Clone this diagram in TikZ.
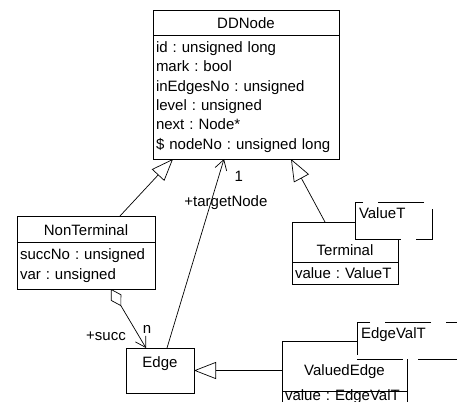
\documentclass[tikz,border=0pt]{standalone}
\usepackage{fontspec}
\setmainfont{Liberation Sans}
\usetikzlibrary{
  arrows.meta,
  positioning
}
\tikzset{>=latex}

\begin{document}
\begin{tikzpicture}[x=1pt, y=-1pt, line width=0.7pt,
    every node/.style={font=\fontsize{15pt}{19.4pt}\selectfont\frenchspacing},
    classhead/.style={draw, fill=white, align=center, inner sep=0pt, outer sep=0pt, text height=18.5pt, text depth=6.5pt},
    classbody/.style={draw, fill=white, align=left, inner xsep=3pt, inner ysep=0pt, outer sep=0pt},
    template/.style={draw, fill=white, dash pattern=on 46pt off 15pt, align=left, inner xsep=4pt, inner ysep=0pt, outer sep=0pt, text height=16.5pt, text depth=20.5pt},
    inherit/.style={-{Triangle[open, length=22pt, width=17pt]}},
    assoc/.style={-{Straight Barb[length=10pt, width=12pt]}},
    aggr/.style={{Diamond[open, length=20pt, width=12pt]}-{Straight Barb[length=10pt, width=12pt]}}]
  \useasboundingbox (0,0) rectangle (457,401);
  \clip (0,0) rectangle (457,401);

  % classes
  \node[classhead, minimum width=186pt, anchor=north west] (ddnode) at (153,10) {DDNode};
  \node[classbody, text width=180pt, minimum height=124pt, below=0pt of ddnode] (ddnodeattr) {id : unsigned long\\ mark : bool\\ inEdgesNo : unsigned\\ level : unsigned\\ next : Node*\\ \$ nodeNo : unsigned long};

  \node[classhead, minimum width=138pt, text height=19.5pt, anchor=north west] (nonterm) at (17,216) {NonTerminal};
  \node[classbody, text width=132pt, minimum height=47pt, below=0pt of nonterm] (nontermattr) {succNo : unsigned\\ var : unsigned};

  \node[classhead, minimum width=106pt, text height=33.5pt, anchor=north west] (terminal) at (292,222) {Terminal};
  \node[classbody, text width=100pt, minimum height=22pt, below=0pt of terminal] (terminalattr) {value : ValueT};
  \node[template, text width=69pt, anchor=north west] (valuet) at (355,202) {ValueT};

  \node[classhead, minimum width=68pt, text height=19.5pt, text depth=25.5pt, anchor=north west] (edge) at (126,348) {Edge};

  \node[classhead, minimum width=125pt, text height=34.5pt, text depth=15.5pt, anchor=north west] (valuededge) at (282,341) {ValuedEdge};
  \node[classbody, text width=119pt, text height=9.5pt, text depth=3.5pt, below=0pt of valuededge] (valuededgeattr) {value : EdgeValT};
  \node[template, text width=102pt, anchor=north west] (edgevalt) at (357,322) {EdgeValT};

  % connections
  \draw[inherit] ([xshift=103pt]nonterm.north west) -- ([xshift=20pt]ddnodeattr.south west);
  \draw[inherit] ([xshift=33pt]terminal.north west) -- ([xshift=-48pt]ddnodeattr.south east);
  \draw[assoc] ([xshift=41pt]edge.north west) -- node[pos=0.77, xshift=15pt] {+targetNode} node[pos=0.91, xshift=20pt] {1} ([xshift=71pt]ddnodeattr.south west);
  \draw[aggr] ([xshift=94pt]nontermattr.south west) -- node[pos=0.8, xshift=-33pt] {+succ} node[pos=0.69, xshift=12pt] {n} ([xshift=20pt]edge.north west);
  \draw[inherit] (edge.east -| valuededge.west) -- (edge.east);
\end{tikzpicture}
\end{document}
